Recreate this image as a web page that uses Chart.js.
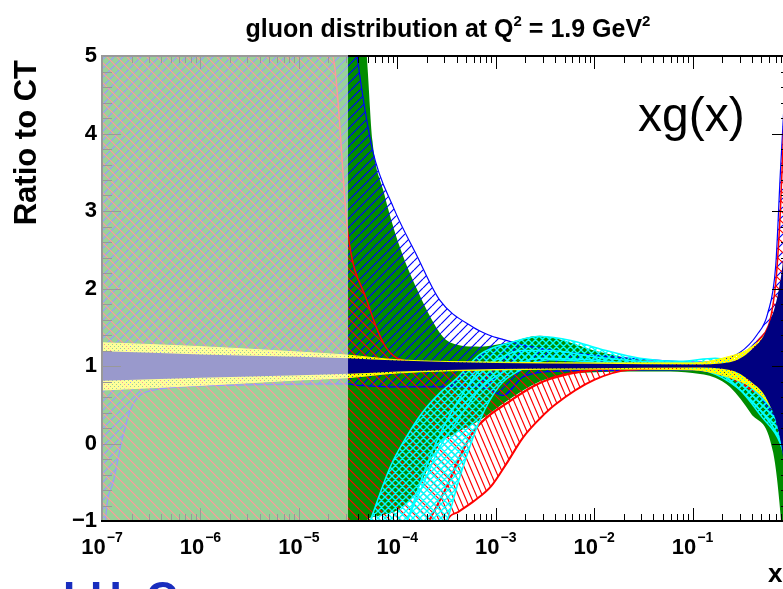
<!DOCTYPE html>
<html>
<head>
<meta charset="utf-8">
<script src="https://cdn.jsdelivr.net/npm/chart.js@4.4.1/dist/chart.umd.min.js"></script>
<style>
  html, body { margin: 0; padding: 0; overflow: hidden; background: #fff; }
  canvas { display: block; }
</style>
</head>
<body>
<canvas id="chart" width="800" height="589"></canvas>
<script>
// ---- data (ratio to CT) ----
// x below this value is shown washed out
var xCut = 3.16e-5;

// green band
var gX  = [1e-7, 3.16e-5, 4.2e-5, 4.9e-5, 5.6e-5, 7.2e-5, 1e-4, 1.6e-4, 2.7e-4, 3.5e-4, 6.9e-4, 1.3e-3, 2.8e-3, 5.8e-3, 0.01, 0.023, 0.05, 0.1, 0.17, 0.24, 0.39, 0.66, 0.78, 0.87, 1];
var gHi = [6, 6, 6, 5.0, 3.9, 3.27, 2.63, 1.98, 1.43, 1.30, 1.25, 1.30, 1.39, 1.30, 1.20, 1.10, 1.05, 1.03, 1.04, 1.06, 1.12, 1.3, 1.5, 1.8, 2.5];
var gLo = [-2, -2, -1.6, -1.0, -0.95, -0.92, -0.86, -0.6, 0.0, 0.1, 0.3, 0.55, 0.8, 0.9, 0.92, 0.93, 0.93, 0.91, 0.85, 0.73, 0.39, -0.12, -0.9, -1.8, -3];

// blue hatched band
var bX  = [1e-7, 1.1e-7, 1.3e-7, 1.6e-7, 2e-7, 3.4e-7, 1.6e-6, 3.16e-5, 3.9e-5, 5.6e-5, 9.1e-5, 1.6e-4, 2.7e-4, 5.9e-4, 8.5e-4, 1.2e-3, 1.9e-3, 4e-3, 0.01, 0.037, 0.1, 0.2, 0.3, 0.45, 0.58, 0.7, 0.78, 1];
var bHi = [6, 6, 6, 6, 6, 6, 6, 6, 5.0, 3.79, 3.05, 2.41, 1.85, 1.50, 1.40, 1.34, 1.27, 1.2, 1.14, 1.08, 1.05, 1.08, 1.17, 1.4, 1.68, 2.3, 3.5, 6];
var bLo = [-2, -0.9, -0.5, 0.05, 0.47, 0.69, 0.75, 0.77, 0.75, 0.74, 0.73, 0.73, 0.73, 0.73, 0.70, 0.62, 0.86, 0.93, 0.94, 0.95, 0.95, 0.88, 0.82, 0.65, 0.47, 0.3, 0.1, -0.5];

// red wide band
var r1X  = [1e-7, 2.2e-5, 3.16e-5, 4.9e-5, 7.2e-5, 1e-4, 2.1e-4, 3.5e-4, 5.9e-4, 1.3e-3, 2.8e-3, 0.01, 0.03, 0.1, 0.24, 0.45, 0.69, 0.78, 0.87, 1];
var r1Hi = [6, 5.0, 2.7, 1.85, 1.3, 1.1, 1.03, 1.02, 1.02, 1.02, 1.02, 1.02, 1.02, 1.02, 1.05, 1.3, 2.0, 3.0, 4.5, 6];
var r1Lo = [-2, -2, -2, -2, -2, -1.8, -1.0, -0.45, 0.15, 0.52, 0.78, 0.95, 1.0, 0.98, 0.92, 0.75, 0.55, 0.45, 0.3, 0];

// red narrow band
var r2X  = [2.1e-4, 3.2e-4, 4.2e-4, 5.9e-4, 9e-4, 1.3e-3, 1.9e-3, 2.8e-3, 4e-3, 0.01, 0.023, 0.1, 0.24, 0.39, 0.58, 0.78, 1];
var r2Hi = [-1, -0.55, -0.2, 0.15, 0.38, 0.52, 0.66, 0.78, 0.86, 0.95, 0.99, 0.98, 0.92, 0.8, 0.6, 0.45, 0];
var r2Lo = [-1.9, -1.0, -0.88, -0.75, -0.55, -0.25, 0.08, 0.32, 0.5, 0.82, 0.95, 0.97, 0.85, 0.7, 0.56, 0.4, 0];

// cyan bands
var c1X  = [5.3e-5, 8.5e-5, 1.26e-4, 1.8e-4, 2.7e-4, 4.1e-4, 6.9e-4, 1.4e-3, 2.8e-3, 5.8e-3, 0.0115, 0.029, 0.074, 0.17, 0.3, 0.5, 0.78, 1];
var c1Hi = [-1, -0.3, 0.1, 0.4, 0.65, 0.85, 1.15, 1.30, 1.38, 1.33, 1.22, 1.10, 1.06, 1.1, 1.0, 0.75, 0.3, 0];
var c1Lo = [-2.5, -1.6, -1, -0.55, -0.05, 0.3, 0.7, 0.97, 1.1, 1.09, 1.07, 1.02, 1.0, 0.93, 0.7, 0.35, 0.0, -0.5];
var c2X  = [1.26e-4, 2.1e-4, 3.2e-4, 4.4e-4, 6.9e-4, 1.1e-3, 1.8e-3, 3.5e-3, 0.01, 0.03, 0.1, 0.2, 0.4, 0.7, 1];
var c2Hi = [-1, -0.2, 0.3, 0.6, 0.95, 1.1, 1.2, 1.2, 1.12, 1.06, 1.04, 1.0, 0.8, 0.4, 0.1];
var c2Lo = [-2.2, -1.6, -1, -0.4, 0.3, 0.75, 0.95, 1.08, 1.05, 1.0, 0.97, 0.85, 0.55, 0.15, -0.3];

// yellow dotted band
var yX  = [1e-7, 1e-6, 1e-5, 3.16e-5, 1e-4, 1e-3, 0.01, 0.1, 0.2, 0.4, 0.6, 0.8, 1];
var yHi = [1.30, 1.25, 1.18, 1.14, 1.08, 1.05, 1.04, 1.04, 1.1, 1.25, 1.5, 2.0, 3.0];
var yLo = [0.69, 0.75, 0.82, 0.85, 0.91, 0.95, 0.96, 0.95, 0.88, 0.72, 0.5, 0.2, -0.5];

// navy band
var nX  = [1e-7, 1e-6, 1e-5, 3.16e-5, 1e-4, 1e-3, 0.01, 0.1, 0.24, 0.39, 0.58, 0.78, 0.9, 1];
var nHi = [1.19, 1.15, 1.12, 1.10, 1.07, 1.04, 1.03, 1.02, 1.05, 1.2, 1.5, 2.1, 2.8, 3.5];
var nLo = [0.81, 0.85, 0.88, 0.90, 0.93, 0.96, 0.97, 0.98, 0.95, 0.8, 0.55, 0.05, -0.6, -1.5];

var xDecades = [-7, -6, -5, -4, -3, -2, -1];
var yTicks = [-1, 0, 1, 2, 3, 4, 5];

var FONT = '"Liberation Sans", Arial, Helvetica, sans-serif';

// ---- fill patterns ----
function hatch(color, w, h, dir, lw) {
    var c = document.createElement('canvas');
    c.width = w; c.height = h;
    var g = c.getContext('2d');
    g.strokeStyle = color;
    g.lineWidth = lw;
    g.beginPath();
    for (var k = -1; k <= 1; k++) {
        if (dir === '/' || dir === 'x') { g.moveTo(k * w, h); g.lineTo(k * w + w, 0); }
        if (dir === '\\' || dir === 'x') { g.moveTo(k * w, 0); g.lineTo(k * w + w, h); }
    }
    g.stroke();
    return g.createPattern(c, 'repeat');
}

function dots(color) {
    var c = document.createElement('canvas');
    c.width = 4; c.height = 4;
    var g = c.getContext('2d');
    g.fillStyle = color;
    g.fillRect(0, 0, 4, 4);
    g.clearRect(0, 0, 1, 1);
    g.clearRect(2, 2, 1, 1);
    return g.createPattern(c, 'repeat');
}

function band(name, xs, hi, lo, fillStyle, lineColor, lw) {
    var common = { pointRadius: 0, borderColor: lineColor, borderWidth: lw, cubicInterpolationMode: 'monotone' };
    return [
        Object.assign({ label: name, data: xs.map(function (x, i) { return { x: x, y: hi[i] }; }), fill: '+1', backgroundColor: fillStyle }, common),
        Object.assign({ label: name + ' low', data: xs.map(function (x, i) { return { x: x, y: lo[i] }; }), fill: false }, common)
    ];
}

// first dataset is drawn on top
var datasets = [].concat(
    band('navy', nX, nHi, nLo, 'rgb(0,0,128)', 'rgb(0,0,128)', 0),
    band('yellow', yX, yHi, yLo, dots('rgb(255,255,0)'), 'rgb(255,255,0)', 1),
    band('cyan 1', c1X, c1Hi, c1Lo, hatch('rgb(0,255,255)', 7, 7, 'x', 1.4), 'rgb(0,255,255)', 1.5),
    band('cyan 2', c2X, c2Hi, c2Lo, hatch('rgb(0,255,255)', 7, 7, 'x', 1.4), 'rgb(0,255,255)', 1.5),
    band('red 2', r2X, r2Hi, r2Lo, hatch('rgb(255,0,0)', 6, 14, '\\', 1.2), 'rgb(255,0,0)', 2),
    band('red 1', r1X, r1Hi, r1Lo, hatch('rgb(255,0,0)', 10, 10, '\\', 1.2), 'rgb(255,0,0)', 1.5),
    band('blue', bX, bHi, bLo, hatch('rgb(0,0,255)', 9, 9, '/', 1.2), 'rgb(0,0,255)', 1.2),
    band('green', gX, gHi, gLo, 'rgb(0,140,0)', 'rgb(0,140,0)', 0)
);

// ROOT style frame, inward ticks, x labels and the washed out region
var framePlugin = {
    id: 'frame',
    afterDatasetsDraw: function (chart) {
        var ctx = chart.ctx, a = chart.chartArea;
        var xs = chart.scales.x, ys = chart.scales.y;
        ctx.save();
        ctx.strokeStyle = '#000';
        ctx.lineWidth = 1;
        ctx.beginPath();
        xDecades.concat([0]).forEach(function (e) {
            for (var m = 1; m < 10; m++) {
                var v = m * Math.pow(10, e);
                if (v > 1) break;
                var px = Math.round(xs.getPixelForValue(v)) + 0.5;
                var len = m === 1 ? 13 : 7;
                ctx.moveTo(px, a.bottom); ctx.lineTo(px, a.bottom - len);
                ctx.moveTo(px, a.top); ctx.lineTo(px, a.top + len);
            }
        });
        for (var i = -5; i <= 25; i++) {
            var py = Math.round(ys.getPixelForValue(i / 5)) + 0.5;
            var l = i % 5 === 0 ? 19 : 10;
            ctx.moveTo(a.left, py); ctx.lineTo(a.left + l, py);
            ctx.moveTo(a.right, py); ctx.lineTo(a.right - l, py);
        }
        ctx.stroke();
        ctx.lineWidth = 2;
        ctx.strokeRect(a.left, a.top, a.right - a.left, a.bottom - a.top);

        // washed out low-x region
        var xc = xs.getPixelForValue(xCut);
        ctx.fillStyle = 'rgba(255,255,255,0.6)';
        ctx.fillRect(a.left - 1, a.top - 1, xc - a.left + 1, a.bottom - a.top);

        // x tick labels 10^n
        ctx.fillStyle = '#000';
        ctx.textBaseline = 'alphabetic';
        ctx.textAlign = 'left';
        xDecades.forEach(function (e) {
            var base = '10', sup = '\u2212' + Math.abs(e);
            ctx.font = 'bold 22px ' + FONT;
            var wb = ctx.measureText(base).width;
            ctx.font = 'bold 14px ' + FONT;
            var ws = ctx.measureText(sup).width;
            var px = xs.getPixelForValue(Math.pow(10, e));
            var x0 = px - (wb + ws + 1) / 2;
            ctx.font = 'bold 22px ' + FONT;
            ctx.fillText(base, x0, 554);
            ctx.font = 'bold 14px ' + FONT;
            ctx.fillText(sup, x0 + wb + 1, 542);
        });
        ctx.restore();
    },
    afterDraw: function (chart) {
        var ctx = chart.ctx;
        ctx.save();
        ctx.fillStyle = '#000';
        ctx.textBaseline = 'alphabetic';
        ctx.textAlign = 'left';

        // title with superscripts
        var parts = [['gluon distribution at Q', 0], ['2', 1], [' = 1.9 GeV', 0], ['2', 1]];
        var w = 0;
        parts.forEach(function (p) {
            ctx.font = 'bold ' + (p[1] ? 15 : 25) + 'px ' + FONT;
            w += ctx.measureText(p[0]).width;
        });
        var x = 448 - w / 2;
        parts.forEach(function (p) {
            ctx.font = 'bold ' + (p[1] ? 15 : 25) + 'px ' + FONT;
            ctx.fillText(p[0], x, p[1] ? 26 : 37);
            x += ctx.measureText(p[0]).width;
        });

        // y axis title
        ctx.save();
        ctx.translate(36, 60);
        ctx.rotate(-Math.PI / 2);
        ctx.textAlign = 'right';
        ctx.font = 'bold 31px ' + FONT;
        ctx.fillText('Ratio to CT', 0, 0);
        ctx.restore();

        ctx.font = '48px ' + FONT;
        ctx.fillText('xg(x)', 638, 131);

        ctx.font = 'bold 26px ' + FONT;
        ctx.fillText('x', 768, 582);

        ctx.fillStyle = 'rgb(25,45,190)';
        ctx.font = 'bold 44px ' + FONT;
        ctx.fillText('LHeC', 63, 613);
        ctx.restore();
    }
};

new Chart(document.getElementById('chart'), {
    type: 'line',
    data: { datasets: datasets },
    options: {
        responsive: false,
        animation: false,
        events: [],
        layout: { padding: { top: 56, right: 9, bottom: 0, left: 0 } },
        plugins: { legend: { display: false }, tooltip: { enabled: false }, title: { display: false } },
        scales: {
            x: {
                type: 'logarithmic', min: 1e-7, max: 1,
                grid: { display: false }, border: { display: false },
                ticks: { display: false },
                afterFit: function (s) { s.height = 68; }
            },
            y: {
                min: -1, max: 5,
                grid: { display: false }, border: { display: false },
                afterBuildTicks: function (s) { s.ticks = yTicks.map(function (v) { return { value: v }; }); },
                ticks: {
                    color: '#000', padding: -3,
                    font: { family: FONT, size: 22, weight: 'bold' },
                    callback: function (v) { return v < 0 ? '\u2212' + Math.abs(v) : String(v); }
                },
                afterFit: function (s) { s.width = 102; }
            }
        }
    },
    plugins: [framePlugin]
});
</script>
</body>
</html>
